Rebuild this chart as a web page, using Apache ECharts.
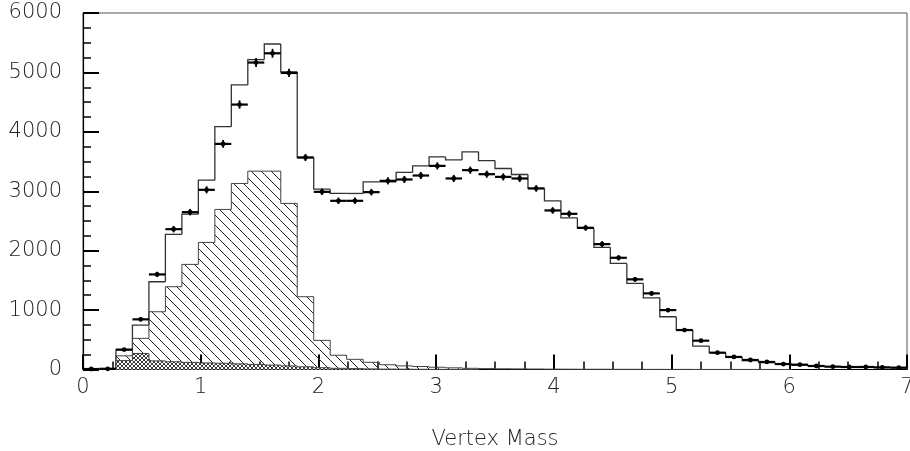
<!DOCTYPE html>
<html><head><meta charset="utf-8">
<script src="https://cdn.jsdelivr.net/npm/echarts@6/dist/echarts.min.js"></script>
<style>html,body{margin:0;padding:0;background:#fff}#c{width:910px;height:451px}</style>
</head><body><div id="c"></div>
<script>
// bin edges (50 bins of width 0.14 over 0..7)
const binEdges = [0,0.14,0.28,0.42,0.56,0.70,0.84,0.98,1.12,1.26,1.40,1.54,1.68,1.82,1.96,2.10,2.24,2.38,2.52,2.66,
  2.80,2.94,3.08,3.22,3.36,3.50,3.64,3.78,3.92,4.06,4.20,4.34,4.48,4.62,4.76,4.90,5.04,5.18,5.32,5.46,
  5.60,5.74,5.88,6.02,6.16,6.30,6.44,6.58,6.72,6.86,7.00];
const xTicks = [0,1,2,3,4,5,6,7];
const yTicks = [0,1000,2000,3000,4000,5000,6000];

// total simulation (open outline)
const mcTotal = [0,0,330,748,1477,2273,2615,3187,4089,4790,
  5216,5478,5008,3568,3035,2963,2963,3158,3158,3316,
  3427,3578,3528,3663,3517,3383,3282,3047,2839,2553,
  2374,2055,1786,1449,1207,888,664,395,283,205,
  148,115,86,75,59,48,42,38,34,28];
// diagonal-hatched component
const hatched = [0,0,230,524,972,1393,1769,2139,2694,3131,
  3338,3338,2795,1225,490,240,171,121,80,61,
  50,38,28,20,15,12,10,8,6,5,
  4,4,3,3,2,2,2,1,1,1,
  1,1,0,0,0,0,0,0,0,0];
// cross-hatched component
const crossHatched = [0,0,150,270,145,130,120,110,105,95,
  85,75,60,45,30,20,15,10,7,5,
  3,2,1,0,0,0,0,0,0,0,
  0,0,0,0,0,0,0,0,0,0,
  0,0,0,0,0,0,0,0,0,0];
// data points and their errors
const dataVals = [8,12,335,844,1600,2362,2648,3024,3797,4459,
  5166,5322,4991,3568,2990,2839,2839,2985,3175,3198,
  3265,3427,3215,3355,3287,3242,3215,3047,2677,2620,
  2385,2110,1880,1517,1281,1000,664,485,283,211,
  160,127,92,81,59,48,42,42,36,31];
const dataErr = [5,5,25,35,45,55,55,60,65,70,
  75,75,70,60,55,55,55,55,60,60,
  60,60,60,60,60,60,60,55,55,55,
  50,50,45,40,40,35,30,25,20,18,
  15,15,12,12,10,10,8,8,8,8];

function makeHatch(){
  const c=document.createElement('canvas'); c.width=10; c.height=10;
  const g=c.getContext('2d'); g.strokeStyle='#222'; g.lineWidth=1;
  g.beginPath();
  g.moveTo(-1,-1); g.lineTo(11,11);
  g.moveTo(-1,9); g.lineTo(1,11);
  g.moveTo(9,-1); g.lineTo(11,1);
  g.stroke(); return c;
}
function makeCross(){
  const c=document.createElement('canvas'); c.width=4; c.height=4;
  const g=c.getContext('2d'); g.fillStyle='#fff'; g.fillRect(0,0,4,4);
  g.strokeStyle='#222'; g.lineWidth=0.9;
  g.beginPath();
  g.moveTo(0,0); g.lineTo(4,4);
  g.moveTo(0,4); g.lineTo(4,0);
  g.stroke(); return c;
}
const hatchFill = {image: makeHatch(), repeat:'repeat'};
const crossFill = {image: makeCross(), repeat:'repeat'};

function histItems(vals){
  return vals.map((v,i)=>[binEdges[i], binEdges[i+1], v, i>0?vals[i-1]:0, i===vals.length-1?1:0]);
}
function histSeries(vals, fill, stroke, lw, z){
  return {
    type:'custom', z:z, silent:true,
    data: histItems(vals),
    encode:{x:[0,1], y:2},
    renderItem:function(params, api){
      const lo=api.value(0), hi=api.value(1), v=api.value(2), prev=api.value(3), last=api.value(4);
      const pLoV=api.coord([lo,v]), pHiV=api.coord([hi,v]), pLoP=api.coord([lo,prev]), pHi0=api.coord([hi,0]);
      const children=[];
      if(fill && v>0){
        children.push({type:'rect', shape:{x:pLoV[0], y:pLoV[1], width:pHiV[0]-pLoV[0], height:pHi0[1]-pLoV[1]}, style:{fill:fill}});
      }
      if(v>0 || prev>0){
        const pts=[pLoP,pLoV,pHiV]; if(last) pts.push(pHi0);
        children.push({type:'polyline', shape:{points:pts}, style:{fill:null, stroke:stroke, lineWidth:lw}});
      }
      return {type:'group', children:children};
    }
  };
}

const pointItems = dataVals.map((v,i)=>[(binEdges[i]+binEdges[i+1])/2, v, dataErr[i], binEdges[i], binEdges[i+1]]);

const font = 'DejaVu Sans';
const chart = echarts.init(document.getElementById('c'), null, {renderer:'canvas'});
chart.setOption({
  animation:false,
  backgroundColor:'#fff',
  grid:{left:83, right:3, top:13, bottom:81.5, containLabel:false, outerBoundsMode:'none', show:true, borderColor:'#555', borderWidth:1},
  xAxis:{
    type:'value', min:xTicks[0], max:xTicks[xTicks.length-1], interval:1,
    axisLine:{show:true, onZero:false, lineStyle:{color:'#000', width:1.2}},
    axisTick:{show:true, inside:true, length:15, lineStyle:{color:'#000', width:2}},
    minorTick:{show:true, splitNumber:4, length:8, lineStyle:{color:'#000', width:1.5}},
    splitLine:{show:false},
    axisLabel:{margin:8, fontSize:21, fontWeight:200, color:'#222', fontFamily:font, showMinLabel:true, showMaxLabel:true,
      formatter:function(v){return String(v);}},
    name:'Vertex Mass', nameLocation:'middle', nameGap:60,
    nameTextStyle:{fontSize:21, fontWeight:200, color:'#222', fontFamily:font}
  },
  yAxis:{
    type:'value', min:yTicks[0], max:yTicks[yTicks.length-1], interval:1000,
    axisLine:{show:true, onZero:false, lineStyle:{color:'#000', width:1.2}},
    axisTick:{show:true, inside:true, length:16, lineStyle:{color:'#000', width:2}},
    minorTick:{show:true, splitNumber:4, length:8, lineStyle:{color:'#000', width:1.5}},
    splitLine:{show:false},
    axisLabel:{margin:21, fontSize:21, fontWeight:200, color:'#222', fontFamily:font,
      formatter:function(v){return String(v);}}
  },
  series:[
    histSeries(mcTotal, null, '#333', 1.3, 2),
    histSeries(hatched, hatchFill, '#444', 1, 3),
    histSeries(crossHatched, crossFill, '#444', 1, 4),
    {
      type:'custom', z:8, silent:true,
      data: pointItems,
      encode:{x:0, y:1},
      renderItem:function(params, api){
        const c=api.value(0), v=api.value(1), e=api.value(2), lo=api.value(3), hi=api.value(4);
        const pL=api.coord([lo,v]), pR=api.coord([hi,v]), pT=api.coord([c,v+e]), pB=api.coord([c,v-e]), pC=api.coord([c,v]);
        return {type:'group', children:[
          {type:'line', shape:{x1:pL[0], y1:pL[1], x2:pR[0], y2:pR[1]}, style:{stroke:'#000', lineWidth:2.2}},
          {type:'line', shape:{x1:pT[0], y1:pT[1], x2:pB[0], y2:pB[1]}, style:{stroke:'#000', lineWidth:1.8}},
          {type:'circle', shape:{cx:pC[0], cy:pC[1], r:2.4}, style:{fill:'#000'}}
        ]};
      }
    }
  ]
});
</script>
</body></html>
